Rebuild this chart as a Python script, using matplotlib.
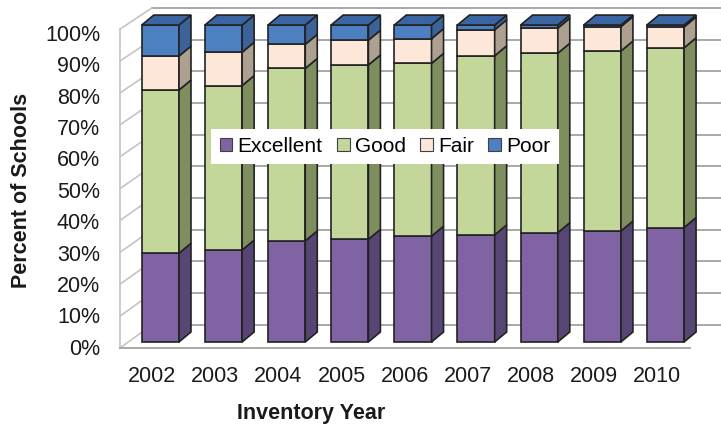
import matplotlib.pyplot as plt
from matplotlib.patches import Polygon, Patch

years = ["2002", "2003", "2004", "2005", "2006", "2007", "2008", "2009", "2010"]
excellent = [28.0, 29.0, 31.9, 32.4, 33.4, 33.8, 34.5, 35.0, 36.1]
good = [51.5, 51.9, 54.4, 55.0, 54.5, 56.5, 56.6, 56.8, 56.7]
fair = [10.7, 10.5, 7.6, 7.8, 7.8, 8.2, 7.9, 7.7, 6.6]
poor = [9.8, 8.6, 6.1, 4.8, 4.3, 1.5, 1.0, 0.5, 0.6]

categories = ["Excellent", "Good", "Fair", "Poor"]
front_colors = ["#7f63a3", "#c4d79b", "#fde7d8", "#4d80c0"]
side_colors = ["#574673", "#7f8e5f", "#ada090", "#3a6399"]
top_color = "#3b64a2"
edge = "#222222"

plt.rcParams["font.family"] = ["Liberation Sans", "DejaVu Sans"]

fig = plt.figure(figsize=(7.21, 4.32), dpi=100)
ax = fig.add_axes([0, 0, 1, 1])
ax.set_xlim(-2.54, 8.88)
ax.set_ylim(-28.4, 107.9)
ax.axis("off")

bar_w = 0.59
ddx, ddy = 0.19, 3.15          # bar depth offset
floor_y = -1.9                  # front edge of floor
wall_x0, wall_x1 = -0.64, 8.39
wdx, wdy = 0.507, 7.3           # depth of the floor / side wall

grid_c = "#a8a8a8"
wall_c = "#c4c4c4"

# back wall gridlines and left wall
for p in range(0, 101, 10):
    ax.plot([wall_x0 + wdx, 8.95], [p + floor_y + wdy, p + floor_y + wdy],
            color=grid_c, lw=1.4, zorder=1)
    ax.plot([wall_x0, wall_x0 + wdx], [p * 1.006 + floor_y, p + floor_y + wdy],
            color=wall_c, lw=1.2, zorder=1)
    ax.text(-0.955, p * 0.991 - 2.3, f"{p}%", ha="right", va="center",
            fontsize=15.5, color="#1a1a1a")
ax.plot([wall_x0, wall_x0], [floor_y, 100.6 + floor_y], color=wall_c, lw=1.2, zorder=1)
ax.plot([wall_x0, wall_x1], [floor_y, floor_y], color=grid_c, lw=1.4, zorder=1)

# stacked 3D bars
series = [excellent, good, fair, poor]
for i, year in enumerate(years):
    x0 = i - bar_w / 2
    x1 = i + bar_w / 2
    base = 0.0
    for k, vals in enumerate(series):
        top = base + vals[i]
        ax.add_patch(Polygon([(x0, base), (x1, base), (x1, top), (x0, top)],
                             closed=True, fc=front_colors[k], ec=edge, lw=1.2, zorder=3))
        ax.add_patch(Polygon([(x1, base), (x1 + ddx, base + ddy),
                              (x1 + ddx, top + ddy), (x1, top)],
                             closed=True, fc=side_colors[k], ec=edge, lw=1.2, zorder=3))
        base = top
    ax.add_patch(Polygon([(x0, base), (x1, base), (x1 + ddx, base + ddy),
                          (x0 + ddx, base + ddy)],
                         closed=True, fc=top_color, ec=edge, lw=1.2, zorder=3))
    ax.text(i - 0.13, -11.0, year, ha="center", va="center", fontsize=15.5,
            color="#1a1a1a")

fig.text(311 / 721, 1 - 413 / 432, "Inventory Year", ha="center", va="center",
         fontsize=15.5, fontweight="bold", color="#1a1a1a")
fig.text(22 / 721, 1 - 190 / 432, "Percent of Schools", ha="center", va="center",
         rotation=90, fontsize=15.5, fontweight="bold", color="#1a1a1a")

handles = [Patch(fc=c, ec="#404040", lw=0.8) for c in front_colors]
leg = ax.legend(handles, categories, loc="center", ncol=4,
                bbox_to_anchor=(385 / 721, 1 - 146.5 / 432),
                bbox_transform=fig.transFigure, frameon=True, fancybox=False,
                fontsize=15, handlelength=0.6, handleheight=0.6,
                handletextpad=0.25, columnspacing=0.7, borderpad=0.4)
leg.get_frame().set_edgecolor("none")
leg.get_frame().set_facecolor("white")
leg.get_frame().set_alpha(1.0)
leg.set_zorder(5)

fig.savefig("out.png", dpi=100)
